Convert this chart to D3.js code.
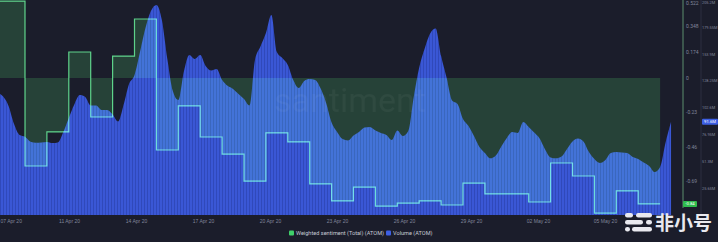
<!DOCTYPE html>
<html>
<head>
<meta charset="utf-8">
<script src="https://cdn.jsdelivr.net/npm/d3@7"></script>
<style>
  html, body { margin: 0; padding: 0; background: #1b1d2b; }
  svg { display: block; font-family: Roboto, "Noto Sans", sans-serif; }
</style>
</head>
<body>
<svg id="chart" width="718" height="242"></svg>
<script>
// volume (ATOM), millions, one value every 6 hours from 07 Apr 18:00 UTC
const volumeStart = Date.UTC(2020, 3, 7, 18)
const volumeValues = [
  116.4, 113.0, 104.0, 86.8, 76.4, 74.7, 70.0, 69.0, 69.2, 69.7,
  68.7, 69.2, 79.2, 92.6, 105.5, 114.5, 112.6, 104.5, 104.5, 100.2,
  100.2, 95.9, 89.2, 105.0, 125.0, 133.6, 155.6, 178.5, 194.7, 200.4,
  186.1, 148.9, 118.3, 109.8, 136.5, 152.7, 148.9, 152.7, 142.2, 137.9,
  139.3, 128.8, 123.3, 120.3, 115.5, 110.7, 104.5, 147.9, 160.8, 173.7,
  190.9, 155.6, 149.8, 143.2, 128.8, 121.2, 127.9, 129.8, 128.8, 120.7,
  106.9, 88.3, 79.2, 72.5, 71.1, 75.9, 79.2, 83.5, 84.0, 80.6,
  78.3, 76.4, 71.6, 80.6, 75.4, 80.2, 112.6, 140.8, 158.9, 173.2,
  178.0, 151.7, 131.2, 109.3, 105.9, 91.6, 84.9, 75.4, 64.9, 59.2,
  54.1, 56.8, 65.4, 73.5, 79.2, 78.3, 88.8, 84.0, 78.7, 73.0,
  62.5, 54.9, 54.1, 55.8, 63.0, 70.1, 73.0, 70.1, 60.1, 53.4,
  49.6, 52.5, 59.2, 60.1, 59.7, 59.2, 55.4, 53.4, 50.1, 46.8,
  41.0, 45.8, 69.2, 89.0
]

// weighted sentiment, one value per day from 07 Apr
const sentimentStart = Date.UTC(2020, 3, 7)
const sentimentValues = [
  0.515, 0.515, -0.589, -0.361, 0.174, -0.261, 0.147, 0.395, -0.482, -0.187,
  -0.395, -0.509, -0.690, -0.368, -0.428, -0.709, -0.823, -0.730, -0.857, -0.837,
  -0.823, -0.850, -0.703, -0.776, -0.776, -0.830, -0.569, -0.656, -0.904, -0.756,
  -0.843
]

const xTickDates = [
  '2020-04-07T22:48Z', '2020-04-11T00:13Z', '2020-04-14T01:38Z', '2020-04-17T03:04Z',
  '2020-04-20T04:29Z', '2020-04-23T05:55Z', '2020-04-26T07:20Z', '2020-04-29T08:45Z',
  '2020-05-02T10:12Z', '2020-05-05T11:37Z'
]
const xTickLabels = ['07 Apr 20', '11 Apr 20', '14 Apr 20', '17 Apr 20', '20 Apr 20',
  '23 Apr 20', '26 Apr 20', '29 Apr 20', '02 May 20', '05 May 20']

const sentTicks = [0.522, 0.348, 0.174, 0, -0.23, -0.46, -0.69]
const sentTickLabels = ['0.522', '0.348', '0.174', '0', '-0.23', '-0.46', '-0.69']
const volTicks = [25.65, 51.3, 76.95, 102.6, 128.25, 153.9, 179.55, 205.2]
const volTickLabels = ['25.65M', '51.3M', '76.95M', '102.6M', '128.25M', '153.9M', '179.55M', '205.2M']

const lastSentLabel = '-0.84'
const lastVolLabel = '91.6M'

const HOUR = 3600 * 1000
const volume = volumeValues.map((v, i) => ({date: new Date(volumeStart + i * 6 * HOUR), v}))
const sentiment = sentimentValues.map((v, i) => ({date: new Date(sentimentStart + i * 24 * HOUR), v}))
// close the last step
sentiment.push({date: new Date(sentimentStart + sentimentValues.length * 24 * HOUR), v: sentimentValues[sentimentValues.length - 1]})

const plotW = 673, plotH = 215
const bg = '#1b1d2b'

const svg = d3.select('#chart')
svg.append('rect').attr('width', 718).attr('height', 242).attr('fill', bg)

const x = d3.scaleUtc()
  .domain([new Date(Date.UTC(2020, 3, 7, 20, 36)), new Date(Date.UTC(2020, 4, 8, 14, 8))])
  .range([0, plotW])
const yVol = d3.scaleLinear().domain([0, 205.2]).range([plotH, 0])
const ySent = d3.scaleLinear().domain([-0.917, 0.522]).range([plotH, 0])

const defs = svg.append('defs')
defs.append('clipPath').attr('id', 'plot-clip')
  .append('rect').attr('width', plotW).attr('height', plotH)
const pat = defs.append('pattern').attr('id', 'stripes')
  .attr('patternUnits', 'userSpaceOnUse').attr('width', 3).attr('height', 10)
pat.append('rect').attr('width', 1).attr('height', 10).attr('fill', 'rgba(15,25,90,0.22)')

const g = svg.append('g').attr('clip-path', 'url(#plot-clip)')
// backdrop inside the clipped group so the blend modes see it
g.append('rect').attr('width', plotW).attr('height', plotH).attr('fill', bg)

// volume
const volArea = d3.area()
  .x(d => x(d.date))
  .y0(yVol(0))
  .y1(d => yVol(d.v))
  .curve(d3.curveMonotoneX)
g.append('path').datum(volume).attr('d', volArea).attr('fill', '#3a57d5')
g.append('path').datum(volume).attr('d', volArea).attr('fill', 'url(#stripes)')

// sentiment
const sentArea = d3.area()
  .x(d => x(d.date))
  .y0(ySent(0))
  .y1(d => ySent(d.v))
  .curve(d3.curveStepAfter)
g.append('path').datum(sentiment).attr('d', sentArea)
  .attr('fill', 'rgb(12,42,16)')
  .style('mix-blend-mode', 'screen')

const sentLine = d3.line()
  .x(d => x(d.date))
  .y(d => ySent(d.v))
  .curve(d3.curveStepAfter)
g.append('path').datum(sentiment).attr('d', sentLine)
  .attr('fill', 'none')
  .attr('stroke', 'rgb(70,200,110)')
  .attr('stroke-width', 1.2)
  .style('mix-blend-mode', 'screen')

// watermark
g.append('text')
  .attr('x', 350).attr('y', 112)
  .attr('text-anchor', 'middle')
  .attr('font-size', 34)
  .attr('fill', 'rgba(255,255,255,0.045)')
  .text('santiment')

// x axis
const xAxis = svg.append('g').attr('transform', `translate(0,${plotH + 1})`)
  .call(d3.axisBottom(x)
    .tickValues(xTickDates.map(d => new Date(d)))
    .tickFormat((d, i) => xTickLabels[i])
    .tickSize(0)
    .tickPadding(3))
xAxis.select('.domain').remove()
xAxis.selectAll('text').attr('fill', '#80859a').attr('font-size', 5)
xAxis.select('.tick text').attr('text-anchor', 'start').attr('x', -2)

// sentiment axis
const sAxis = svg.append('g').attr('transform', 'translate(683,0)')
  .call(d3.axisRight(ySent)
    .tickValues(sentTicks)
    .tickFormat((d, i) => sentTickLabels[i])
    .tickSize(0)
    .tickPadding(3))
sAxis.select('.domain').attr('stroke', '#5d8f6e').attr('d', 'M0,0V208')
sAxis.selectAll('text').attr('fill', '#80859a').attr('font-size', 5).attr('font-family', 'Roboto')
sAxis.select('.tick text').attr('dy', '0.9em')

// volume axis
const vAxis = svg.append('g').attr('transform', 'translate(701,0)')
  .call(d3.axisRight(yVol)
    .tickValues(volTicks)
    .tickFormat((d, i) => volTickLabels[i])
    .tickSize(0)
    .tickPadding(1))
vAxis.select('.domain').attr('stroke', '#2c2f40').attr('d', 'M0,0V215')
vAxis.selectAll('text').attr('fill', '#80859a').attr('font-size', 3.9).attr('font-family', 'Roboto')
vAxis.selectAll('.tick').filter(d => d === 205.2).select('text').attr('dy', '0.9em')

// last value badges
const lastS = sentimentValues[sentimentValues.length - 1]
svg.append('rect').attr('x', 683).attr('y', ySent(lastS) - 3).attr('width', 14).attr('height', 6)
  .attr('rx', 1).attr('fill', '#2fbd4e')
svg.append('text').attr('x', 690).attr('y', ySent(lastS)).attr('dy', '0.35em')
  .attr('text-anchor', 'middle').attr('font-size', 4.2).attr('fill', '#fff').text(lastSentLabel)
const lastV = volumeValues[volumeValues.length - 1]
svg.append('rect').attr('x', 702).attr('y', yVol(lastV) - 3).attr('width', 16).attr('height', 6)
  .attr('rx', 1).attr('fill', '#3d5fe3')
svg.append('text').attr('x', 710).attr('y', yVol(lastV)).attr('dy', '0.35em')
  .attr('text-anchor', 'middle').attr('font-size', 4.2).attr('fill', '#fff').text(lastVolLabel)

// legend
const legend = svg.append('g').attr('transform', 'translate(0,233)')
legend.append('rect').attr('x', 289).attr('y', -2.5).attr('width', 5).attr('height', 5).attr('rx', 1).attr('fill', '#3fd06a')
legend.append('text').attr('x', 296).attr('dy', '0.35em').attr('font-size', 5.6).attr('fill', '#c6c9d4')
  .text('Weighted sentiment (Total) (ATOM)')
legend.append('rect').attr('x', 386).attr('y', -2.5).attr('width', 5).attr('height', 5).attr('rx', 1).attr('fill', '#3d5fe3')
legend.append('text').attr('x', 393).attr('dy', '0.35em').attr('font-size', 5.6).attr('fill', '#c6c9d4')
  .text('Volume (ATOM)')

// source logo
const logo = svg.append('g').attr('fill', '#e9e9ef')
logo.append('rect').attr('x', 625).attr('y', 213).attr('width', 8).attr('height', 4.5).attr('rx', 2.2)
logo.append('rect').attr('x', 636).attr('y', 213).attr('width', 16).attr('height', 4.5).attr('rx', 2.2)
logo.append('rect').attr('x', 625).attr('y', 220).attr('width', 18).attr('height', 4.5).attr('rx', 2.2)
logo.append('rect').attr('x', 646).attr('y', 220).attr('width', 6).attr('height', 4.5).attr('rx', 2.2)
logo.append('rect').attr('x', 625).attr('y', 227).attr('width', 5).attr('height', 4.5).attr('rx', 2.2)
logo.append('rect').attr('x', 632).attr('y', 227).attr('width', 20).attr('height', 4.5).attr('rx', 2.2)
logo.append('text').attr('x', 655).attr('y', 230).attr('font-size', 19).attr('font-weight', 'bold')
  .attr('font-family', '"Noto Sans CJK SC"').text('非小号')
</script>
</body>
</html>
